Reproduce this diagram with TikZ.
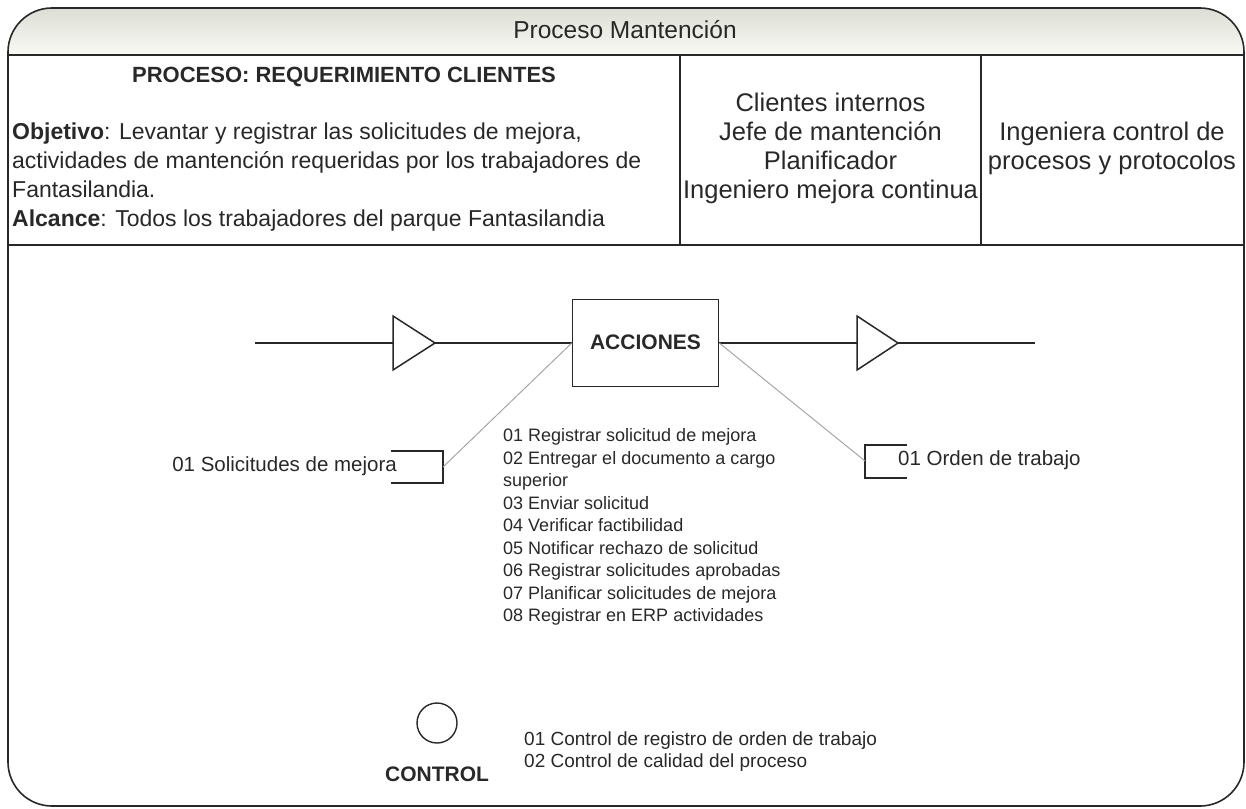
\documentclass[tikz,border=0pt]{standalone}
\usepackage{fontspec}
\setmainfont{Liberation Sans}
\usetikzlibrary{positioning}
\usetikzlibrary{shapes.geometric}

\definecolor{bandasup}{RGB}{220,222,212}
\definecolor{bandainf}{RGB}{250,250,246}
\definecolor{tinta}{RGB}{40,40,40}

\tikzset{
    marco/.style={draw=tinta, line width=1.6pt},
    texto/.style={text=tinta, inner sep=0pt, text height=17pt, text depth=5pt, font=\fontsize{23}{29}\selectfont},
    celda/.style={texto, font=\fontsize{25.5}{29}\selectfont},
    negrita/.style={text=tinta, inner sep=0pt, text height=16pt, text depth=4pt, font=\fontsize{22}{27}\selectfont\bfseries},
    lista/.style={text=tinta, inner sep=0pt, text height=13pt, text depth=4pt, font=\fontsize{18}{22}\selectfont},
    etiqueta/.style={lista, font=\fontsize{20.5}{24}\selectfont},
    flujo/.style={draw=tinta, line width=1.5pt},
    enlace/.style={draw=black!35, line width=1pt},
}

\begin{document}
\begin{tikzpicture}[x=1pt,y=-1pt]
    \useasboundingbox (0,0) rectangle (1246,808);
    % banda del titulo
    \shade[top color=bandasup, bottom color=bandainf] (8,55) [rounded corners=44] -- (8,8) -- (1244,8) [sharp corners] -- (1244,55) -- cycle;
    \draw[marco, rounded corners=44] (8,8) rectangle (1244,806);
    \draw[marco] (8,55) -- (1244,55);
    \draw[marco] (8,245) -- (1244,245);
    \draw[marco] (680,55) -- (680,245);
    \draw[marco] (981,55) -- (981,245);
    \node[texto, font=\fontsize{24.5}{29}\selectfont] (titulo) at (625,32) {Proceso Mantención};

    % cabecera
    \node[negrita] (proceso) at (344,76) {PROCESO: REQUERIMIENTO CLIENTES};
    \foreach \t [count=\i] in {{\textbf{Objetivo}: Levantar y registrar las solicitudes de mejora,},
        {actividades de mantención requeridas por los trabajadores de},
        {Fantasilandia.},
        {\textbf{Alcance}: Todos los trabajadores del parque Fantasilandia}}
        \node[texto, anchor=west] (obj-\i) at (12,133+29*\i-29) {\t};
    \foreach \t [count=\i] in {Clientes internos, Jefe de mantención, Planificador, Ingeniero mejora continua}
        \node[celda] (cli-\i) at (830.5,105+29.3*\i-29.3) {\t};
    \node[celda] (ing-1) at (1112,134) {Ingeniera control de};
    \node[celda] (ing-2) at (1112,163) {procesos y protocolos};

    % flujo principal
    \coordinate (inicio) at (255,343);
    \coordinate (fin) at (1035,343);
    \node[flujo, minimum width=146, minimum height=87, negrita, font=\fontsize{21}{25}\selectfont\bfseries] (acciones) at (645.5,343) {ACCIONES};
    \draw[flujo] (inicio) -- (acciones.west);
    \draw[flujo] (acciones.east) -- (fin);
    \draw[flujo, fill=white] (393,316) -- (435,343) -- (393,370) -- cycle;
    \draw[flujo, fill=white] (857,316) -- (898,343) -- (857,370) -- cycle;

    % entradas y salidas
    \coordinate (solic) at (443,467);
    \coordinate (orden) at (865,461);
    \draw[flujo] (391,451) -- (443,451) -- (443,483) -- (391,483);
    \draw[flujo] (907,445) -- (865,445) -- (865,478) -- (907,478);
    \draw[enlace] (solic) -- (acciones.west);
    \draw[enlace] (orden) -- (acciones.east);
    \node[etiqueta, anchor=east] (solicitudes) at (397,467) {01 Solicitudes de mejora};
    \node[etiqueta, anchor=west] (trabajo) at (898,461) {01 Orden de trabajo};

    % acciones
    \foreach \t [count=\i] in {01 Registrar solicitud de mejora, 02 Entregar el documento a cargo,
        superior, 03 Enviar solicitud, 04 Verificar factibilidad, 05 Notificar rechazo de solicitud,
        06 Registrar solicitudes aprobadas, 07 Planificar solicitudes de mejora, 08 Registrar en ERP actividades}
        \node[lista, anchor=west] (acc-\i) at (503,437+22.5*\i-22.5) {\t};

    % control
    \node[draw=tinta, line width=1.4pt, circle, minimum size=40] (control) at (437,723) {};
    \node[negrita, font=\fontsize{21}{25}\selectfont\bfseries] (ctrl) at (437,775) {CONTROL};
    \node[lista, anchor=west, font=\fontsize{19}{22}\selectfont] (ctrl-1) at (524,741) {01 Control de registro de orden de trabajo};
    \node[lista, anchor=west, font=\fontsize{19}{22}\selectfont] (ctrl-2) at (524,763) {02 Control de calidad del proceso};
\end{tikzpicture}
\end{document}
